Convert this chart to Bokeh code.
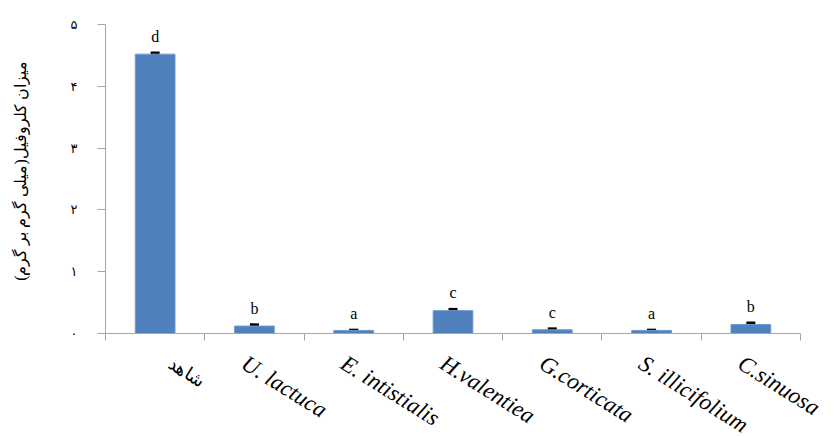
import math
from bokeh.plotting import figure
from bokeh.models import (Range1d, FixedTicker, ColumnDataSource, Whisker, TeeHead,
                          LabelSet, LinearAxis)
from bokeh.embed import file_html
from bokeh.resources import INLINE

categories = ["شاهد", "U. lactuca", "E. intistialis", "H.valentiea", "G.corticata", "S. illicifolium", "C.sinuosa"]
values = [4.52, 0.12, 0.05, 0.37, 0.06, 0.05, 0.145]
errors = [0.02, 0.02, 0.004, 0.02, 0.015, 0.004, 0.025]
letters = ["d", "b", "a", "c", "c", "a", "b"]
y_ticks = [0, 1, 2, 3, 4, 5]
y_tick_labels = ["۰", "۱", "۲", "۳", "۴", "۵"]
y_title = "میزان کلروفیل(میلی گرم بر گرم)"

n = len(categories)
centers = [i + 0.5 for i in range(n)]
src = ColumnDataSource(dict(
    x=centers, top=values, upper=[v + e for v, e in zip(values, errors)],
    lower=[v - e for v, e in zip(values, errors)], lab=letters,
))
latin = ColumnDataSource(dict(x=centers[1:], y=[0] * (n - 1), name=categories[1:]))
persian = ColumnDataSource(dict(x=centers[:1], y=[0], name=categories[:1]))

# canvas layout (pixels)
W, H = 840, 437
left_px, right_px = 105, 800      # x = 0 .. n
top_px, base_px = 24, 333         # y = 5 .. 0
ymax = 5
xu = (right_px - left_px) / n
yu = (base_px - top_px) / ymax
x_rng = Range1d(-left_px / xu, n + (W - right_px) / xu)
y_rng = Range1d(-(H - base_px) / yu, ymax + top_px / yu)

p = figure(width=W, height=H, output_backend="svg", toolbar_location=None,
           x_range=x_rng, y_range=y_rng, x_axis_location=None, y_axis_location=None,
           min_border_left=0, min_border_right=0, min_border_top=0, min_border_bottom=0)
p.outline_line_color = None
p.grid.visible = False
p.background_fill_color = "white"
p.border_fill_color = "white"

axis_gray = "#a6a6a6"

p.vbar(x="x", top="top", width=0.4, bottom=0, source=src,
       fill_color="#4f81bd", line_color="#6f98cc", line_width=1)

# x axis at y = 0 with ticks between categories
xa = LinearAxis(fixed_location=0, bounds=(0, n),
                ticker=FixedTicker(ticks=list(range(n + 1)), minor_ticks=[]))
xa.major_label_overrides = {i: "" for i in range(n + 1)}
xa.major_tick_out = 7
xa.major_tick_in = 0
xa.major_tick_line_color = axis_gray
xa.minor_tick_line_color = None
xa.axis_line_color = axis_gray
p.add_layout(xa, "below")

# y axis at x = 0
ya = LinearAxis(fixed_location=0, bounds=(0, ymax),
                ticker=FixedTicker(ticks=y_ticks, minor_ticks=[]))
ya.major_label_overrides = {t: s for t, s in zip(y_ticks, y_tick_labels)}
ya.major_tick_out = 8
ya.major_tick_in = 0
ya.major_tick_line_color = axis_gray
ya.axis_line_color = axis_gray
ya.minor_tick_line_color = None
ya.major_label_text_font = "DejaVu Sans"
ya.major_label_text_font_size = "13px"
ya.major_label_text_color = "black"
ya.major_label_text_baseline = "bottom"
ya.major_label_standoff = 20
p.add_layout(ya, "left")

w = Whisker(base="x", upper="upper", lower="lower", source=src, line_color="black", line_width=2,
            upper_head=TeeHead(size=9, line_width=3, line_color="black"),
            lower_head=TeeHead(size=9, line_width=3, line_color="black"))
p.add_layout(w)

labels = LabelSet(x="x", y="upper", text="lab", source=src, text_align="center",
                  text_baseline="bottom", y_offset=8, text_font="Liberation Serif",
                  text_font_size="16px", text_color="black")
p.add_layout(labels)

# category labels
p.text(x="x", y="y", text="name", source=latin, text_align="left",
       text_baseline="top", angle=-0.56, x_offset=-4, y_offset=17,
       text_font="Liberation Serif", text_font_style="italic",
       text_font_size="23px", text_color="black")
p.text(x="x", y="y", text="name", source=persian, text_align="left",
       text_baseline="top", angle=-0.56, x_offset=20, y_offset=20,
       text_font="DejaVu Sans", text_font_size="18px", text_color="black")

# y axis title
p.text(x=[0], y=[ymax / 2], text=[y_title], angle=math.pi / 2, text_align="center",
       text_baseline="middle", x_offset=-85, y_offset=-8,
       text_font="DejaVu Sans", text_font_size="16px", text_color="black")

open("out.html", "w").write(file_html(p, INLINE))
